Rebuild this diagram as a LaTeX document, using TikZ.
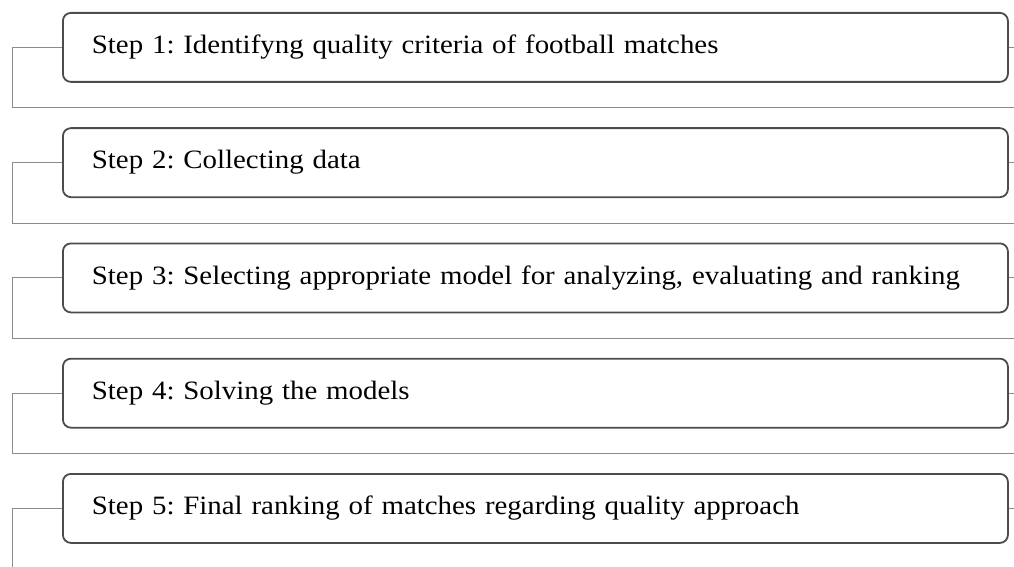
\documentclass[tikz,border=0pt]{standalone}
\usepackage{fontspec}
\setmainfont{Liberation Serif}[FakeStretch=1.09]
\frenchspacing
\usetikzlibrary{positioning}

\tikzset{
  stepbox/.style={draw=black!70, line width=1.8pt, rounded corners=8pt, fill=white,
    minimum width=945pt, minimum height=69pt, inner xsep=29pt, text width=887pt,
    align=left, anchor=north west, font=\fontsize{26.5}{30}\selectfont},
  link/.style={draw=black!45, line width=1pt}
}

\begin{document}
\begin{tikzpicture}[x=1pt,y=-1pt]
    \useasboundingbox (0,0) rectangle (1014,567);
    \coordinate (rim) at (1014,0);
    \foreach \i/\txt in {1/{Step 1: Identifyng quality criteria of football matches},
      2/{Step 2: Collecting data},
      3/{Step 3: Selecting appropriate model for analyzing, evaluating and ranking},
      4/{Step 4: Solving the models},
      5/{Step 5: Final ranking of matches regarding quality approach}}
    \node[stepbox] (s\i) at (62,{12+115.25*(\i-1)}) {\txt};
    % left brackets and separators
    \foreach \i in {1,...,4} {
      \coordinate (c\i) at (12,{108+115.25*(\i-1)});
      \coordinate (e\i) at (1014,{108+115.25*(\i-1)});
      \draw[link] (s\i.west) -| (c\i) -- (e\i);
    }
    \coordinate (c5) at (12,567);
    \draw[link] (s5.west) -| (c5);
    % right stubs
    \foreach \i in {1,...,5}
    \draw[link] (s\i.east) -- (s\i.east -| rim);
  \end{tikzpicture}
\end{document}
